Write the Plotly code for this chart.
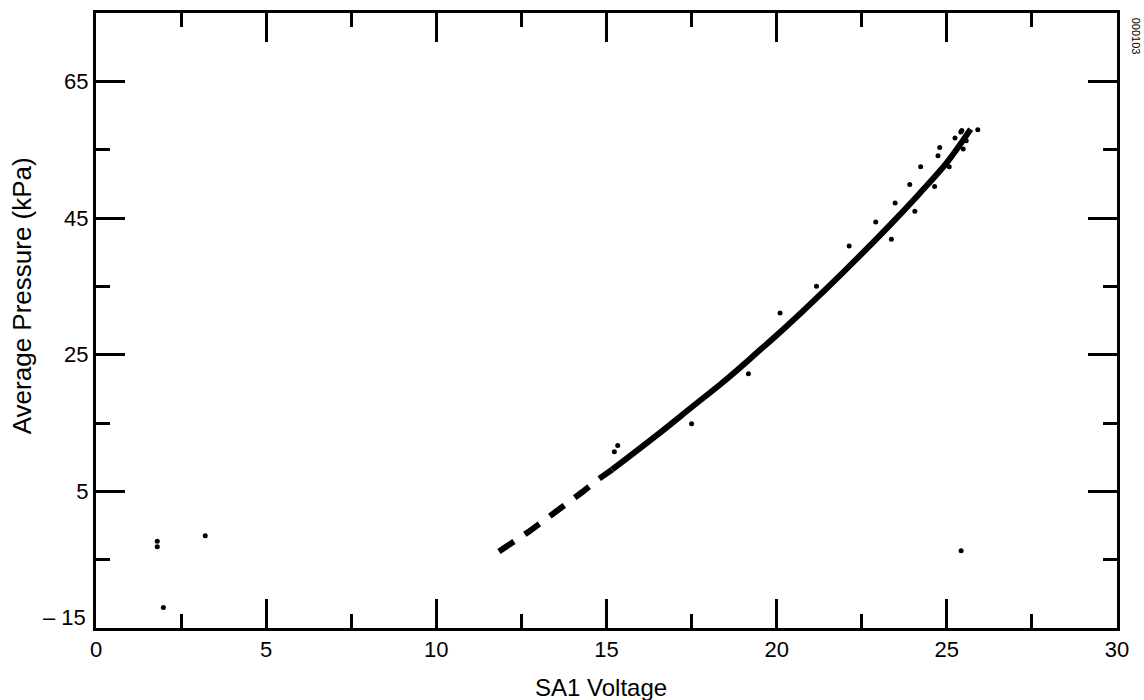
import plotly.graph_objects as go

# Fitted curve (dashed part at low voltage, then solid)
curve_dash_x = [11.84, 12.37, 12.69, 13.18, 13.52, 13.91, 14.29, 14.77, 15.17]
curve_dash_y = [-3.8, -2.1, -1.0, 0.8, 2.0, 3.6, 4.9, 6.8, 8.2]
curve_x = [15.17, 16.5, 17.5, 18.5, 19.4, 20.3, 21.9, 23.2, 24.2, 25.0, 25.7]
curve_y = [8.2, 13.3, 17.3, 21.3, 25.2, 29.2, 36.8, 43.3, 48.6, 53.1, 58.0]

# Measured points
points_x = [1.80, 1.80, 3.21, 1.98, 25.42, 15.33, 15.23, 17.50, 19.17,
            20.10, 21.17, 22.13, 22.91, 23.37, 23.48, 23.91, 24.06, 24.23,
            24.64, 24.74, 24.79, 25.07, 25.24, 25.41, 25.44, 25.48, 25.57, 25.91]
points_y = [-2.3, -3.1, -1.5, -12.0, -3.7, 11.7, 10.8, 14.9, 22.2,
            31.1, 35.0, 40.9, 44.4, 41.9, 47.2, 49.9, 46.0, 52.5,
            49.6, 54.1, 55.3, 52.5, 56.7, 57.6, 57.8, 55.1, 56.3, 57.9]

x_ticks = [0, 5, 10, 15, 20, 25, 30]
y_ticks = [-15, 5, 25, 45, 65]
y_tick_text = ["", "5", "25", "45", "65"]

FONT = "Liberation Sans, Arial, Helvetica, sans-serif"

fig = go.Figure()
fig.add_trace(go.Scatter(x=curve_dash_x, y=curve_dash_y, mode="lines",
                         line=dict(color="black", width=6, dash="18px,13px"),
                         showlegend=False, hoverinfo="skip"))
fig.add_trace(go.Scatter(x=curve_x, y=curve_y, mode="lines",
                         line=dict(color="black", width=6, shape="spline"),
                         showlegend=False, hoverinfo="skip"))
fig.add_trace(go.Scatter(x=points_x, y=points_y, mode="markers",
                         marker=dict(color="black", size=5),
                         showlegend=False))

axis_common = dict(
    showgrid=False, zeroline=False, showline=True, linewidth=3, linecolor="black",
    mirror="ticks", ticks="inside", ticklen=29, tickwidth=3, tickcolor="black",
    tickfont=dict(family=FONT, size=22, color="black"),
)

fig.update_xaxes(range=[0, 30], tickmode="array", tickvals=x_ticks,
                 minor=dict(dtick=2.5, tick0=0, ticks="inside", ticklen=14,
                            tickwidth=3, tickcolor="black"),
                 **axis_common)
fig.update_yaxes(range=[-15, 75], tickmode="array", tickvals=y_ticks, ticktext=y_tick_text,
                 minor=dict(dtick=10, tick0=5, ticks="inside", ticklen=14,
                            tickwidth=3, tickcolor="black"),
                 **axis_common)

fig.add_annotation(text="\u2013 15", xref="paper", yref="y", x=0, y=-15,
                   xanchor="right", yanchor="middle", xshift=-8, yshift=11,
                   showarrow=False, font=dict(family=FONT, size=22, color="black"))
fig.add_annotation(text="Average Pressure (kPa)", xref="paper", yref="paper",
                   x=-0.0725, y=0.541, xanchor="center", yanchor="middle",
                   textangle=-90, showarrow=False,
                   font=dict(family=FONT, size=26, color="black"))
fig.add_annotation(text="SA1 Voltage", xref="paper", yref="paper",
                   x=0.495, y=-0.097, xanchor="center", yanchor="middle",
                   showarrow=False, font=dict(family=FONT, size=24, color="black"))
fig.add_annotation(text="000103", xref="paper", yref="paper",
                   x=1.0195, y=0.995, xanchor="center", yanchor="top",
                   textangle=90, showarrow=False,
                   font=dict(family=FONT, size=11, color="black"))

fig.update_layout(
    width=1144, height=700,
    margin=dict(l=96, r=27, t=10, b=72),
    paper_bgcolor="white", plot_bgcolor="white",
    font=dict(family=FONT, color="black"),
)

fig.write_html("out.html")
